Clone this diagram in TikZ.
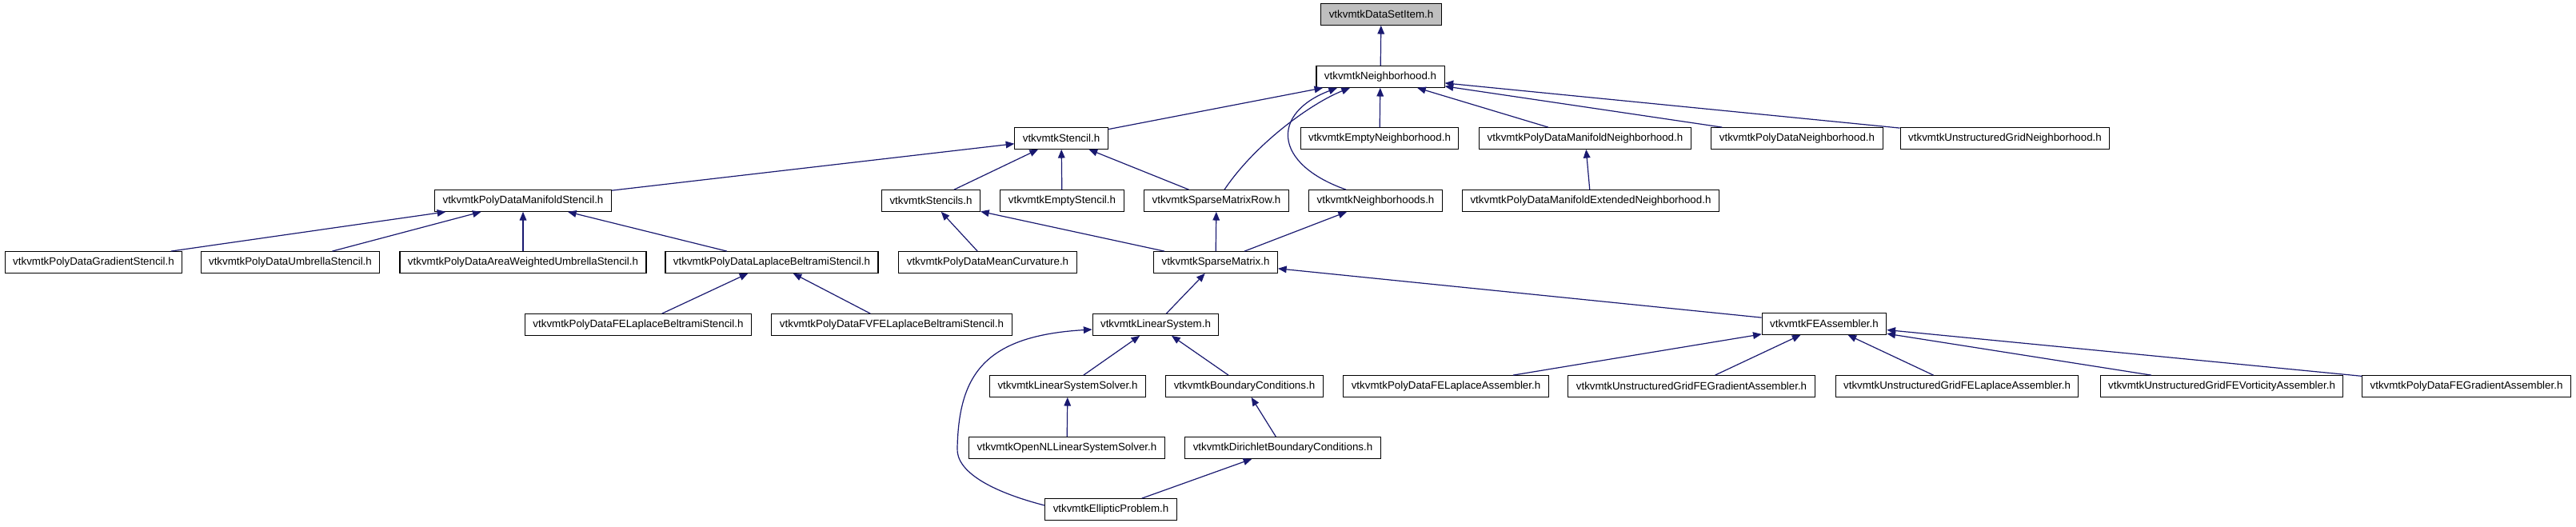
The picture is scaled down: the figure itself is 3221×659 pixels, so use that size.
\documentclass[tikz,border=0pt]{standalone}
\usepackage{fontspec}
\setmainfont{Liberation Sans}
\usepackage{xcolor}
\usetikzlibrary{arrows.meta, calc}

\definecolor{edgeblue}{HTML}{191970}
\definecolor{rootgray}{HTML}{BFBFBF}

\begin{document}
\begin{tikzpicture}[x=0.75pt, y=-0.75pt,
  every node/.style={draw=black, line width=0.8pt, fill=white, font=\fontsize{10}{12}\selectfont,
    minimum height=20pt, inner xsep=7.5pt, inner ysep=0pt},
  dep/.style={-{Triangle[length=8pt, width=6.5pt]}, draw=edgeblue, line width=0.9pt}]
\useasboundingbox (0,0) rectangle (3221,659);

% rows of headers
\node[fill=rootgray] (dsi) at (1727,18) {vtkvmtkDataSetItem.h};
\node (nbh) at (1726,96) {vtkvmtkNeighborhood.h};

\node (stencil) at (1327,173) {vtkvmtkStencil.h};
\node (emptynbh) at (1725,173) {vtkvmtkEmptyNeighborhood.h};
\node (pdmnbh) at (1982,173) {vtkvmtkPolyDataManifoldNeighborhood.h};
\node (pdnbh) at (2247,173) {vtkvmtkPolyDataNeighborhood.h};
\node (ugnbh) at (2507,173) {vtkvmtkUnstructuredGridNeighborhood.h};

\node (pdmstencil) at (654,251) {vtkvmtkPolyDataManifoldStencil.h};
\node (stencils) at (1164,251) {vtkvmtkStencils.h};
\node (emptystencil) at (1328,251) {vtkvmtkEmptyStencil.h};
\node (smrow) at (1521,251) {vtkvmtkSparseMatrixRow.h};
\node (nbhs) at (1720,251) {vtkvmtkNeighborhoods.h};
\node (pdmextnbh) at (1989,251) {vtkvmtkPolyDataManifoldExtendedNeighborhood.h};

\node (pdgradst) at (117,328) {vtkvmtkPolyDataGradientStencil.h};
\node (umbst) at (363,328) {vtkvmtkPolyDataUmbrellaStencil.h};
\node (areaumbst) at (654,328) {vtkvmtkPolyDataAreaWeightedUmbrellaStencil.h};
\node (lbst) at (965,328) {vtkvmtkPolyDataLaplaceBeltramiStencil.h};
\node (meancurv) at (1235,328) {vtkvmtkPolyDataMeanCurvature.h};
\node (sparse) at (1520,328) {vtkvmtkSparseMatrix.h};

\node (felbst) at (798,406) {vtkvmtkPolyDataFELaplaceBeltramiStencil.h};
\node (fvfelbst) at (1115,406) {vtkvmtkPolyDataFVFELaplaceBeltramiStencil.h};
\node (linsys) at (1445,406) {vtkvmtkLinearSystem.h};
\node (feasm) at (2281,405) {vtkvmtkFEAssembler.h};

\node (lssolver) at (1335,483) {vtkvmtkLinearSystemSolver.h};
\node (bc) at (1556,483) {vtkvmtkBoundaryConditions.h};
\node (pdfelapasm) at (1808,483) {vtkvmtkPolyDataFELaplaceAssembler.h};
\node (ugfegradasm) at (2115,483) {vtkvmtkUnstructuredGridFEGradientAssembler.h};
\node (ugfelapasm) at (2447,483) {vtkvmtkUnstructuredGridFELaplaceAssembler.h};
\node (ugfevortasm) at (2778,483) {vtkvmtkUnstructuredGridFEVorticityAssembler.h};
\node (pdfegradasm) at (3084,483) {vtkvmtkPolyDataFEGradientAssembler.h};

\node (opennl) at (1334,560) {vtkvmtkOpenNLLinearSystemSolver.h};
\node (dirichlet) at (1604,560) {vtkvmtkDirichletBoundaryConditions.h};

\node (elliptic) at (1389,637) {vtkvmtkEllipticProblem.h};

% include edges
\draw[dep] (nbh) -- (dsi);
\draw[dep] (stencil) -- (nbh);
\draw[dep] (emptynbh) -- (nbh);
\draw[dep] (pdmnbh) -- (nbh);
\draw[dep] (pdnbh) -- (nbh);
\draw[dep] (ugnbh) -- (nbh);
\draw[dep] ($(smrow.north)+(10,0)$) .. controls +(39,-58) and +(-48,19) .. ($(nbh.south)+(-38,0)$);
\draw[dep] ($(nbhs.north)+(-37,0)$) .. controls +(-93,-33) and +(-82,31) .. ($(nbh.south)+(-54,0)$);
\draw[dep] (pdmextnbh) -- (pdmnbh);

\draw[dep] (pdmstencil) -- (stencil);
\draw[dep] (stencils) -- (stencil);
\draw[dep] (emptystencil) -- (stencil);
\draw[dep] (smrow) -- (stencil);

\draw[dep] (pdgradst) -- (pdmstencil);
\draw[dep] (umbst) -- (pdmstencil);
\draw[dep] (areaumbst) -- (pdmstencil);
\draw[dep] (lbst) -- (pdmstencil);
\draw[dep] (felbst) -- (lbst);
\draw[dep] (fvfelbst) -- (lbst);

\draw[dep] (meancurv) -- (stencils);
\draw[dep] (sparse) -- (stencils);
\draw[dep] (sparse) -- (smrow);
\draw[dep] (sparse) -- (nbhs);

\draw[dep] (linsys) -- (sparse);
\draw[dep] (feasm) -- (sparse);
\draw[dep] (lssolver) -- (linsys);
\draw[dep] (bc) -- (linsys);
\draw[dep] (opennl) -- (lssolver);
\draw[dep] (dirichlet) -- (bc);
\draw[dep] (elliptic) -- (dirichlet);
\coordinate (ebend) at (1197,560);
\draw[dep] ($(elliptic.west)+(0,-5)$) .. controls +(-66,-17) and +(-2,30) .. (ebend)
  .. controls +(2,-90) and +(-136,8) .. ($(linsys.west)+(0,6)$);

\draw[dep] (pdfelapasm) -- (feasm);
\draw[dep] (ugfegradasm) -- (feasm);
\draw[dep] (ugfelapasm) -- (feasm);
\draw[dep] (ugfevortasm) -- (feasm);
\draw[dep] (pdfegradasm) -- (feasm);
\end{tikzpicture}
\end{document}
